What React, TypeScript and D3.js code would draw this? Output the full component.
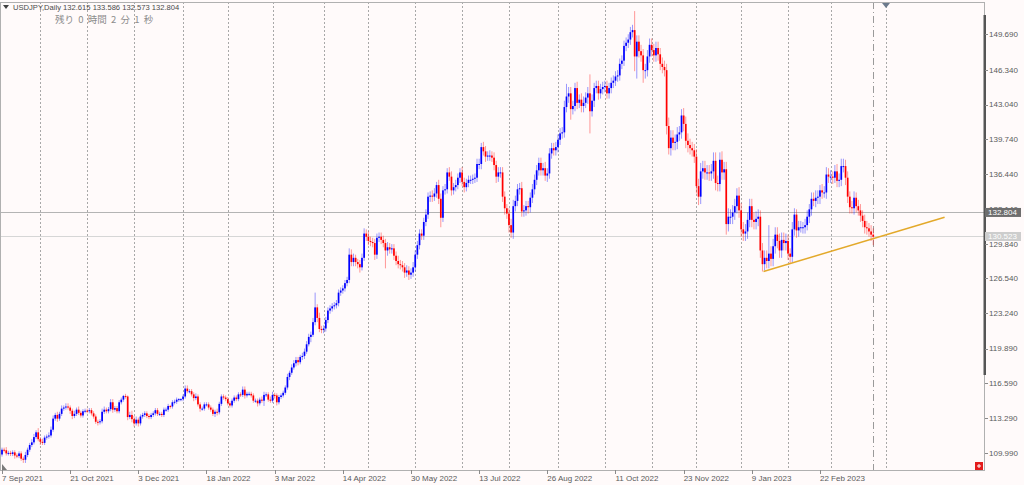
import React from "react";
import * as d3 from "d3";

// ---- data (USDJPY daily) ----
const firstOpen = 109.85;

const closes: number[] = [
  // Sep 2021
  110.3,110.25,109.95,110.0,109.9,110.05,109.75,109.7,109.95,109.45,109.35,109.8,110.3,110.75,111.0,111.5,111.95,111.3,
  // Oct 2021
  111.05,110.95,111.45,111.55,111.65,112.2,113.25,113.6,113.25,113.7,114.2,114.3,114.4,114.3,114.0,113.5,113.7,114.1,113.8,113.55,113.95,114.0,
  // Nov 2021
  113.95,114.05,113.75,113.45,112.95,112.9,113.0,113.9,114.1,113.95,114.15,114.8,114.1,114.25,113.95,114.8,115.05,115.4,115.35,113.4,113.6,113.2,
  // Dec 2021
  112.8,113.15,112.8,113.45,113.6,113.75,113.5,113.4,113.6,113.75,114.05,113.7,113.7,113.6,114.1,114.1,114.45,114.4,114.8,114.85,115.05,115.1,115.1,
  // Jan 2022
  115.35,116.1,115.85,115.85,115.55,115.2,115.35,114.6,114.2,114.2,114.6,114.6,114.3,114.1,113.7,113.9,113.85,114.65,115.35,115.25,115.1,
  // Feb 2022
  114.7,114.5,114.95,115.25,115.1,115.55,115.5,116.0,115.45,115.6,115.6,115.45,114.95,114.95,114.7,115.05,114.95,115.5,115.55,115.05,114.95,
  // Mar 2022
  115.5,115.45,114.8,115.3,115.45,115.7,116.2,117.2,117.6,118.1,118.5,118.8,118.6,119.1,119.2,119.6,120.3,121.0,121.2,122.4,123.8,122.8,121.75,121.65,
  // Apr 2022
  121.8,122.6,123.5,123.7,123.9,124.0,124.2,125.2,125.4,125.6,126.1,126.4,128.8,128.1,128.5,128.1,127.9,127.6,128.5,130.8,130.5,
  // May 2022
  130.1,130.0,129.9,128.8,130.4,130.5,130.2,129.9,129.2,129.5,129.3,129.4,128.7,128.2,127.9,127.8,127.6,127.1,127.3,126.9,127.1,127.6,
  // Jun 2022
  128.8,129.7,130.8,130.6,131.9,132.6,134.3,134.4,134.3,134.6,135.4,134.1,132.3,134.9,135.0,136.6,136.2,134.9,135.2,135.4,136.1,136.6,
  // Jul 2022
  135.7,135.2,135.6,135.9,135.9,136.0,136.1,137.4,137.4,139.0,138.6,138.1,138.2,138.2,138.0,137.3,136.2,136.6,136.6,134.3,133.2,132.7,
  // Aug 2022
  131.6,130.9,133.4,133.9,135.0,135.1,132.9,133.0,133.4,133.3,134.2,135.0,135.9,136.8,137.5,136.8,137.0,136.3,136.5,138.4,138.9,138.7,139.0,
  // Sep 2022
  139.7,140.3,140.4,142.8,143.8,144.1,142.6,142.9,144.6,143.2,143.5,142.9,143.2,143.7,144.1,142.4,143.4,144.6,144.8,144.1,144.5,144.7,
  // Oct 2022
  144.8,144.1,144.6,145.1,145.3,145.7,145.8,146.9,147.2,148.6,148.9,149.2,149.9,150.1,147.6,149.0,148.1,147.7,146.3,146.3,147.6,148.7,
  // Nov 2022
  148.2,147.7,148.4,147.8,146.9,146.6,146.3,141.0,138.9,139.9,139.4,139.5,140.2,140.4,142.0,141.2,139.6,139.2,138.9,138.7,138.1,
  // Dec 2022
  135.3,134.3,136.7,137.0,136.6,136.6,136.5,136.7,137.7,135.6,135.5,137.8,136.6,136.9,131.7,132.4,132.4,132.8,133.4,134.4,133.0,
  // Jan 2023
  131.2,130.8,131.0,132.1,133.4,132.1,131.9,132.2,132.4,129.2,127.9,128.5,128.2,128.9,128.4,129.6,130.7,130.1,129.2,130.2,129.9,130.1,
  // Feb 2023
  128.9,128.6,131.2,132.6,131.1,131.4,131.4,131.4,131.6,132.4,133.1,134.1,133.9,134.2,134.3,134.9,134.7,134.7,136.4,136.2,
  // Mar 2023
  136.2,136.1,136.7,135.8,135.9,137.2,137.2,136.1,134.3,133.3,133.2,134.2,133.4,133.0,132.5,132.0,131.4,131.3,131.0,130.7,130.5,
];

// upper wick above the body, tenths of a yen
const upperWick: number[] = [
  2,2,3,2,2,2,2,2,2,2,2,3,2,2,3,3,2,4,
  2,3,2,2,3,3,3,2,3,2,3,2,3,3,2,2,3,2,3,2,2,2,
  2,2,2,2,2,2,2,3,3,2,2,3,3,2,2,2,2,1,2,1,3,4,
  3,3,2,2,2,2,2,2,2,2,2,2,2,2,2,2,2,1,2,2,2,1,1,
  2,3,3,2,2,2,3,2,2,2,2,2,2,2,2,2,3,2,2,2,2,
  2,2,2,2,2,2,2,3,3,2,2,2,2,2,2,2,3,3,2,2,3,
  3,2,2,2,2,2,2,3,2,3,3,3,3,2,3,3,3,3,3,4,14,3,5,3,
  3,3,3,3,3,3,3,3,3,3,3,3,6,5,4,3,3,4,4,5,4,
  5,4,4,4,4,4,4,4,4,5,4,4,4,4,5,4,4,4,5,4,4,5,
  4,4,4,4,4,5,4,4,5,5,3,5,5,4,5,4,5,5,4,5,4,4,
  5,4,4,4,4,4,4,5,5,4,5,5,4,5,4,5,4,5,5,5,5,4,
  5,6,6,5,5,5,6,5,5,5,5,5,5,5,5,5,5,6,5,5,5,5,5,
  5,5,5,6,12,6,6,5,5,6,5,6,6,5,6,18,6,5,5,5,5,5,
  5,5,5,5,5,5,5,5,5,5,5,5,5,5,18,6,6,6,6,6,6,6,
  6,6,6,6,6,6,6,6,8,7,7,7,7,6,6,7,7,7,6,6,6,
  7,7,8,7,7,7,7,7,8,8,7,7,8,7,7,8,7,7,7,7,8,
  7,7,7,7,7,7,7,7,7,6,7,7,7,27,7,7,7,7,7,7,7,7,
  6,5,7,6,5,6,6,5,6,6,5,6,6,7,6,5,6,6,7,6,
  6,5,6,7,6,7,7,6,6,5,6,6,5,6,6,5,6,6,5,6,6,
];

// lower wick below the body, tenths of a yen
const lowerWick: number[] = [
  2,2,2,2,2,2,3,2,2,2,3,3,2,2,2,2,2,2,
  3,2,2,2,2,2,2,2,3,2,2,2,2,2,3,3,2,2,2,2,2,2,
  2,2,2,2,2,3,2,2,2,2,2,2,3,2,2,2,2,2,2,3,2,3,
  3,2,3,2,2,2,2,2,2,2,2,2,2,2,2,2,2,2,2,2,2,2,2,
  2,2,2,2,2,3,2,2,3,2,2,2,2,2,2,3,3,2,2,2,2,
  2,2,2,2,2,2,2,2,3,2,2,2,2,2,3,2,2,5,2,2,2,
  2,3,3,2,2,2,2,2,3,2,2,3,3,2,3,3,2,2,5,2,3,4,3,3,
  3,3,3,3,3,3,3,3,3,3,3,3,3,4,4,4,4,5,3,3,4,
  4,4,4,5,4,4,4,4,17,5,4,4,4,4,4,4,4,5,4,5,4,4,
  4,4,4,4,4,4,4,5,5,4,4,5,9,4,4,4,4,5,4,4,4,5,
  4,5,4,4,4,4,4,4,5,5,4,5,4,5,4,5,6,5,5,5,6,5,
  7,5,6,5,5,5,5,5,5,6,5,5,5,5,5,5,5,5,6,5,5,5,5,
  5,5,5,5,5,6,10,5,5,6,5,6,6,5,6,21,5,6,5,6,5,5,
  5,5,5,5,5,5,5,5,5,5,5,5,5,5,14,21,6,6,12,8,6,6,
  6,6,6,6,6,6,6,8,6,7,7,7,7,6,6,7,7,7,6,6,6,
  7,8,7,7,7,7,7,7,7,7,7,7,7,7,10,7,7,7,7,7,7,
  7,7,7,7,7,7,7,7,7,7,7,6,7,7,7,7,7,7,7,7,7,7,
  6,6,5,6,7,6,5,6,6,5,6,6,5,6,6,7,6,5,6,6,
  6,6,5,6,6,6,6,7,6,6,5,6,6,5,6,6,6,6,5,6,8,
];

const priceTicks = [149.69, 146.34, 143.04, 139.74, 136.44, 133.14, 129.84, 126.54, 123.24, 119.89, 116.59, 113.29, 109.99];
const dateLabels = ["7 Sep 2021", "21 Oct 2021", "3 Dec 2021", "18 Jan 2022", "3 Mar 2022", "14 Apr 2022", "30 May 2022", "13 Jul 2022", "26 Aug 2022", "11 Oct 2022", "23 Nov 2022", "9 Jan 2023", "22 Feb 2023"];
const dateLabelBars = [0, 32, 64, 96, 128, 160, 192, 224, 256, 288, 320, 352, 384];
const monthStartBars = [18, 40, 62, 85, 106, 127, 151, 172, 194, 216, 238, 261, 283, 305, 326, 347, 369, 389, 415];
const markerBar = 409; // dash-dot vertical line
const shiftBar = 415; // chart shift marker
const bidPrice = 132.804;
const linePrice = 130.523;
const trendLine = [{ bar: 357.5, price: 127.2 }, { bar: 442.5, price: 132.35 }];
const headerText = "USDJPY,Daily 132.615 133.586 132.573 132.804";
const timerText = "残り 0 時間 2 分 1 秒";

const W = 1024, H = 485;
const PLOT_R = 984, PLOT_T = 2, PLOT_B = 470;

export default function App() {
  const x = d3.scaleLinear().domain([0, 461]).range([2, PLOT_R]);
  const y = d3.scaleLinear().domain([109.99, 149.69]).range([453, 34.4]);

  const candles = closes.map((c, i) => {
    const o = i === 0 ? firstOpen : closes[i - 1];
    const hi = Math.max(o, c) + (upperWick[i] ?? 3) / 10;
    const lo = Math.min(o, c) - (lowerWick[i] ?? 3) / 10;
    return { i, o, c, hi, lo };
  });

  const font = "'Liberation Sans', Arial, sans-serif";
  const axisColor = "#5a5a5a";

  return (
    <svg width={W} height={H} style={{ position: "absolute", left: 0, top: 0, display: "block" }}>
      <rect x={0} y={0} width={W} height={H} fill="#fffafa" />
      {/* month grid */}
      {monthStartBars.map((b) => (
        <line key={"g" + b} x1={Math.round(x(b)) + 0.5} x2={Math.round(x(b)) + 0.5} y1={PLOT_T} y2={PLOT_B}
          stroke="#a8a8a8" strokeWidth={1} strokeDasharray="2,2" />
      ))}
      <line x1={Math.round(x(markerBar)) + 0.5} x2={Math.round(x(markerBar)) + 0.5} y1={PLOT_T} y2={PLOT_B}
        stroke="#9a9a9a" strokeWidth={1} strokeDasharray="7,3,1,3" />
      {/* horizontal price lines */}
      <line x1={0} x2={PLOT_R} y1={Math.round(y(bidPrice)) + 0.5} y2={Math.round(y(bidPrice)) + 0.5} stroke="#b4b4b4" />
      <line x1={0} x2={PLOT_R} y1={Math.round(y(linePrice)) + 0.5} y2={Math.round(y(linePrice)) + 0.5} stroke="#d6d6d6" />
      {/* candles */}
      {candles.map((d) => {
        const up = d.c >= d.o;
        const col = up ? "#0000ff" : "#ff0000";
        const cx = x(d.i);
        const top = y(Math.max(d.o, d.c));
        const bh = Math.max(1, y(Math.min(d.o, d.c)) - top);
        return (
          <g key={d.i}>
            <line x1={cx} x2={cx} y1={y(d.hi)} y2={y(d.lo)} stroke={col} strokeOpacity={0.4} strokeWidth={1} />
            <rect x={cx - 0.85} y={top} width={1.7} height={bh} fill={col} />
          </g>
        );
      })}
      {/* trend line */}
      <line x1={x(trendLine[0].bar)} y1={y(trendLine[0].price)} x2={x(trendLine[1].bar)} y2={y(trendLine[1].price)}
        stroke="#e3a92a" strokeWidth={1.5} />
      {/* frame */}
      <line x1={0} x2={PLOT_R + 1} y1={PLOT_T + 0.5} y2={PLOT_T + 0.5} stroke="#b0b0b0" />
      <line x1={0.5} x2={0.5} y1={PLOT_T} y2={PLOT_B} stroke="#b0b0b0" />
      <line x1={0} x2={PLOT_R + 1} y1={PLOT_B + 0.5} y2={PLOT_B + 0.5} stroke="#b0b0b0" />
      <line x1={PLOT_R + 0.5} x2={PLOT_R + 0.5} y1={PLOT_T} y2={PLOT_B} stroke="#b0b0b0" />
      <rect x={PLOT_R - 0.5} y={15} width={2.5} height={360} fill="#555555" />
      {/* price axis */}
      {priceTicks.map((p) => (
        <g key={"t" + p}>
          <line x1={PLOT_R + 1} x2={PLOT_R + 4} y1={Math.round(y(p)) + 0.5} y2={Math.round(y(p)) + 0.5} stroke="#8a8a8a" />
          <text x={989} y={y(p)} dy="0.35em" fontSize={8} fontFamily={font} fill={axisColor}>{p.toFixed(3)}</text>
        </g>
      ))}
      <rect x={PLOT_R + 1} y={y(bidPrice) - 4.5} width={36} height={9} fill="#6e6e6e" />
      <text x={988} y={y(bidPrice)} dy="0.35em" fontSize={8} fontFamily={font} fill="#ffffff">{bidPrice.toFixed(3)}</text>
      <rect x={PLOT_R + 1} y={y(linePrice) - 4.5} width={36} height={9} fill="#cdcdcd" />
      <text x={988} y={y(linePrice)} dy="0.35em" fontSize={8} fontFamily={font} fill="#ffffff">{linePrice.toFixed(3)}</text>
      {/* date axis */}
      {dateLabels.map((t, k) => (
        <g key={"d" + t}>
          <line x1={Math.round(x(dateLabelBars[k])) + 0.5} x2={Math.round(x(dateLabelBars[k])) + 0.5} y1={PLOT_B} y2={PLOT_B + 4} stroke="#8a8a8a" />
          <text x={x(dateLabelBars[k])} y={481} fontSize={8} fontFamily={font} fill={axisColor}>{t}</text>
        </g>
      ))}
      {/* header */}
      <path d="M3,5 L9,5 L6,9 Z" fill="#404040" />
      <text x={13} y={10} fontSize={7.6} fontFamily={font} fill="#4a4a4a">{headerText}</text>
      <text x={55} y={23} fontSize={9.5} fontFamily="'Noto Sans CJK JP', sans-serif" fill="#8c8c8c"
        xmlSpace="preserve" style={{ whiteSpace: "pre" }}>{timerText.split(" ").join("  ")}</text>
      {/* chart shift marker */}
      <path d={`M${x(shiftBar) - 4},3 L${x(shiftBar) + 4},3 L${x(shiftBar)},8 Z`} fill="#6c7a8c" />
      {/* bottom-left marker */}
      <path d="M2,464 L2,470 L7,470 Z" fill="#7a7a7a" />
      {/* red icon */}
      <rect x={975} y={462} width={8} height={8} fill="#e31b1b" />
      <line x1={977} x2={981} y1={466} y2={466} stroke="#fff" />
      <line x1={979} x2={979} y1={464} y2={468} stroke="#fff" />
    </svg>
  );
}
